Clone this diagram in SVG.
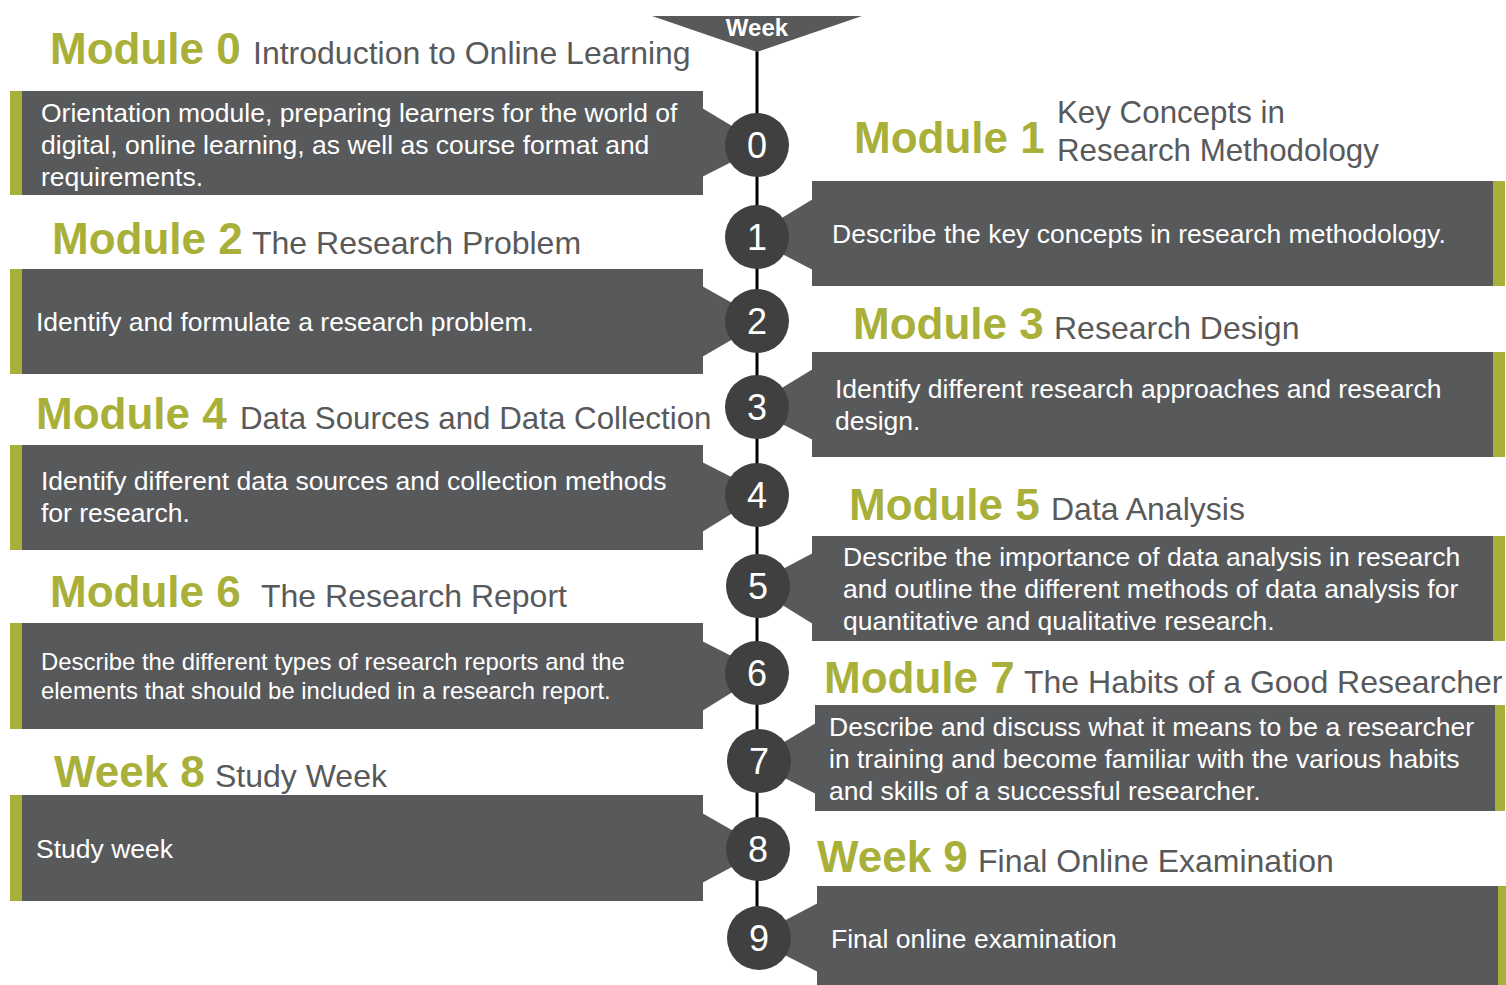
<svg xmlns="http://www.w3.org/2000/svg" width="1506" height="985" viewBox="0 0 1506 985">
<style>
.box{fill:#58595b}
.bar{fill:#a8b039}
.circ{fill:#404040}
.num{font-family:"Liberation Sans",Arial,sans-serif;font-size:36px;fill:#ffffff;text-anchor:middle}
.mod{font-family:"Liberation Sans",Arial,sans-serif;font-size:44px;font-weight:bold;fill:#a8b039}
.sub{font-family:"Liberation Sans",Arial,sans-serif;font-size:32px;fill:#58595b}
.subs{font-family:"Liberation Sans",Arial,sans-serif;font-size:31.3px;fill:#58595b}
.txt{font-family:"Liberation Sans",Arial,sans-serif;font-size:26.5px;fill:#ffffff}
.txt2{font-family:"Liberation Sans",Arial,sans-serif;font-size:23.9px;fill:#ffffff}
</style>
<rect width="1506" height="985" fill="#ffffff"/>
<g id="connectors">
<line x1="757" y1="40" x2="757" y2="938" stroke="#000000" stroke-width="3"/>
</g>
<g id="week-header">
<polygon points="652,16 862,16 757,52" fill="#58595b"/>
<text x="757" y="36" font-family="Liberation Sans,Arial,sans-serif" font-size="24" font-weight="bold" fill="#ffffff" text-anchor="middle">Week</text>
</g>
<g id="module0">
<text class="mod" x="50" y="64">Module 0</text>
<text class="sub" x="253" y="64">Introduction to Online Learning</text>
<rect class="bar" x="10" y="91" width="12" height="104"/>
<rect class="box" x="22" y="91" width="681" height="104"/>
<polygon class="box" points="702,108 757,141 757,149 702,177"/>
<text class="txt" x="41" y="122">Orientation module, preparing learners for the world of</text>
<text class="txt" x="41" y="154">digital, online learning, as well as course format and</text>
<text class="txt" x="41" y="186">requirements.</text>
<circle class="circ" cx="757" cy="145" r="32"/>
<text class="num" x="757" y="158">0</text>
</g>
<g id="module1">
<text class="mod" x="854" y="153">Module 1</text>
<text class="subs" x="1057" y="123">Key Concepts in</text>
<text class="subs" x="1057" y="161">Research Methodology</text>
<rect class="box" x="812" y="181" width="681" height="105"/>
<rect class="bar" x="1493" y="181" width="12" height="105"/>
<polygon class="box" points="813,199 757,233 757,241 813,270"/>
<text class="txt" x="832" y="243">Describe the key concepts in research methodology.</text>
<circle class="circ" cx="757" cy="237" r="32"/>
<text class="num" x="757" y="250">1</text>
</g>
<g id="module2">
<text class="mod" x="52" y="254">Module 2</text>
<text class="sub" x="252" y="254">The Research Problem</text>
<rect class="bar" x="10" y="269" width="12" height="105"/>
<rect class="box" x="22" y="269" width="681" height="105"/>
<polygon class="box" points="702,286 757,317 757,325 702,357"/>
<text class="txt" x="36" y="331">Identify and formulate a research problem.</text>
<circle class="circ" cx="757" cy="321" r="32"/>
<text class="num" x="757" y="334">2</text>
</g>
<g id="module3">
<text class="mod" x="853" y="339">Module 3</text>
<text class="sub" x="1054" y="339">Research Design</text>
<rect class="box" x="812" y="352" width="681" height="105"/>
<rect class="bar" x="1493" y="352" width="12" height="105"/>
<polygon class="box" points="813,369 757,403 757,411 813,440"/>
<text class="txt" x="835" y="398">Identify different research approaches and research</text>
<text class="txt" x="835" y="430">design.</text>
<circle class="circ" cx="757" cy="407" r="32"/>
<text class="num" x="757" y="420">3</text>
</g>
<g id="module4">
<text class="mod" x="36" y="429">Module 4</text>
<text class="subs" x="240" y="429">Data Sources and Data Collection</text>
<rect class="bar" x="10" y="445" width="12" height="105"/>
<rect class="box" x="22" y="445" width="681" height="105"/>
<polygon class="box" points="702,462 757,490 757,498 702,532"/>
<text class="txt" x="41" y="490">Identify different data sources and collection methods</text>
<text class="txt" x="41" y="522">for research.</text>
<circle class="circ" cx="757" cy="495" r="32"/>
<text class="num" x="757" y="508">4</text>
</g>
<g id="module5">
<text class="mod" x="849" y="520">Module 5</text>
<text class="sub" x="1051" y="520">Data Analysis</text>
<rect class="box" x="812" y="536" width="681" height="105"/>
<rect class="bar" x="1493" y="536" width="12" height="105"/>
<polygon class="box" points="813,553 758,582 758,590 813,624"/>
<text class="txt" x="843" y="566">Describe the importance of data analysis in research</text>
<text class="txt" x="843" y="598">and outline the different methods of data analysis for</text>
<text class="txt" x="843" y="630">quantitative and qualitative research.</text>
<circle class="circ" cx="758" cy="586" r="32"/>
<text class="num" x="758" y="599">5</text>
</g>
<g id="module6">
<text class="mod" x="50" y="607">Module 6</text>
<text class="sub" x="261" y="607">The Research Report</text>
<rect class="bar" x="10" y="623" width="12" height="106"/>
<rect class="box" x="22" y="623" width="681" height="106"/>
<polygon class="box" points="702,641 757,669 757,677 702,711"/>
<text class="txt2" x="41" y="670">Describe the different types of research reports and the</text>
<text class="txt2" x="41" y="699">elements that should be included in a research report.</text>
<circle class="circ" cx="757" cy="673" r="32"/>
<text class="num" x="757" y="686">6</text>
</g>
<g id="module7">
<text class="mod" x="824" y="693">Module 7</text>
<text class="sub" x="1024" y="693">The Habits of a Good Researcher</text>
<rect class="box" x="815" y="705" width="680" height="106"/>
<rect class="bar" x="1495" y="705" width="10" height="106"/>
<polygon class="box" points="816,723 759,757 759,765 816,794"/>
<text class="txt" x="829" y="736">Describe and discuss what it means to be a researcher</text>
<text class="txt" x="829" y="768">in training and become familiar with the various habits</text>
<text class="txt" x="829" y="800">and skills of a successful researcher.</text>
<circle class="circ" cx="759" cy="761" r="32"/>
<text class="num" x="759" y="774">7</text>
</g>
<g id="week8">
<text class="mod" x="54" y="787">Week 8</text>
<text class="sub" x="215" y="787">Study Week</text>
<rect class="bar" x="10" y="795" width="12" height="106"/>
<rect class="box" x="22" y="795" width="681" height="106"/>
<polygon class="box" points="702,813 758,845 758,853 702,883"/>
<text class="txt" x="36" y="858">Study week</text>
<circle class="circ" cx="758" cy="849" r="32"/>
<text class="num" x="758" y="862">8</text>
</g>
<g id="week9">
<text class="mod" x="817" y="872">Week 9</text>
<text class="sub" x="978" y="872">Final Online Examination</text>
<rect class="box" x="817" y="886" width="681" height="99"/>
<rect class="bar" x="1498" y="886" width="8" height="99"/>
<polygon class="box" points="818,903 759,934 759,942 818,972"/>
<text class="txt" x="831" y="948">Final online examination</text>
<circle class="circ" cx="759" cy="938" r="32"/>
<text class="num" x="759" y="951">9</text>
</g>
</svg>
